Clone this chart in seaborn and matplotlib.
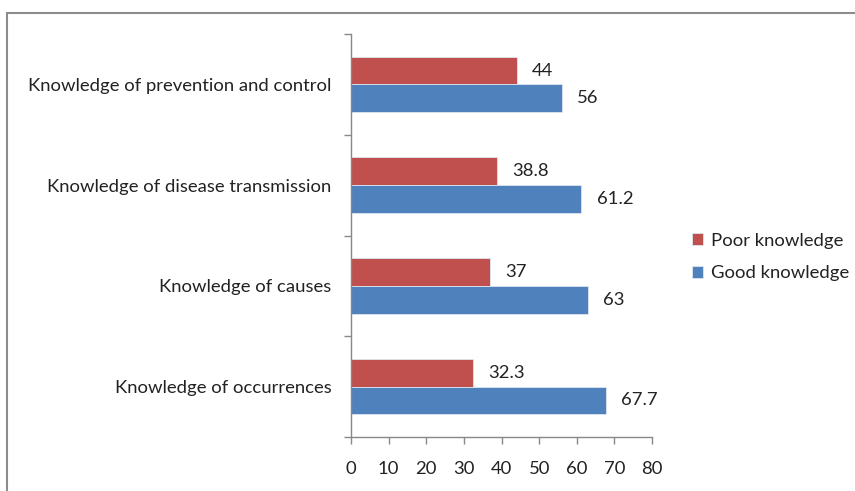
import matplotlib
matplotlib.use("Agg")
import matplotlib.pyplot as plt
import seaborn as sns
import pandas as pd
from matplotlib.patches import Rectangle

categories = ["Knowledge of prevention and control",
              "Knowledge of disease transmission",
              "Knowledge of causes",
              "Knowledge of occurrences"]
poor = [44, 38.8, 37, 32.3]
good = [56, 61.2, 63, 67.7]
series = ["Poor knowledge", "Good knowledge"]
poor_labels = ["44", "38.8", "37", "32.3"]
good_labels = ["56", "61.2", "63", "67.7"]
xticks = [0, 10, 20, 30, 40, 50, 60, 70, 80]

sns.set_style("white")
plt.rcParams["font.family"] = ["Lato", "DejaVu Sans"]

df = pd.DataFrame({
    "category": categories * 2,
    "value": poor + good,
    "series": [series[0]] * 4 + [series[1]] * 4,
})

FS = 13.3
W, H = 855, 491
fig = plt.figure(figsize=(W / 100, H / 100), dpi=100)
ax = fig.add_axes([351 / W, 1 - 437 / H, (652 - 351) / W, (437 - 34) / H])

sns.barplot(data=df, y="category", x="value", hue="series", order=categories,
            hue_order=series, palette=["#C0504D", "#4F81BD"], width=0.55,
            saturation=1, orient="h", ax=ax, edgecolor="#dfe6f0",
            linewidth=0.6, legend=True)

ax.set_xlim(0, 80)
ax.set_ylim(3.5, -0.5)
ax.set_xticks(xticks)
ax.set_xticklabels([str(t) for t in xticks], fontsize=FS, color="#222222")
ax.set_xlabel("")
ax.set_ylabel("")
ax.tick_params(axis="y", which="major", left=False, length=0, pad=14,
               labelsize=FS, labelcolor="#222222")
ax.set_yticks([-0.5, 0.5, 1.5, 2.5, 3.5], minor=True)
ax.tick_params(axis="y", which="minor", left=True, length=5, color="#888888",
               width=1, direction="out")
ax.tick_params(axis="x", which="major", bottom=True, length=5, color="#888888",
               width=1, direction="out", pad=12)

for s in ["top", "right"]:
    ax.spines[s].set_visible(False)
for s in ["left", "bottom"]:
    ax.spines[s].set_color("#888888")
    ax.spines[s].set_linewidth(1)

for cont, labs in zip(ax.containers, [poor_labels, good_labels]):
    ax.bar_label(cont, labels=labs, padding=11, fontsize=FS, color="#222222")

leg = ax.legend(loc="center left", bbox_to_anchor=(675 / W, 1 - 257 / H),
                bbox_transform=fig.transFigure, frameon=False, fontsize=FS,
                handlelength=0.6, handleheight=0.6, handletextpad=0.45,
                labelspacing=0.9)
for t in leg.get_texts():
    t.set_color("#222222")

fig.patches.append(Rectangle((7 / W, -0.5), 2, 0.5 + (1 - 13 / H),
                             transform=fig.transFigure, fill=False,
                             edgecolor="#8c8c8c", linewidth=1.5))

fig.savefig("out.png", dpi=100, facecolor="white")
